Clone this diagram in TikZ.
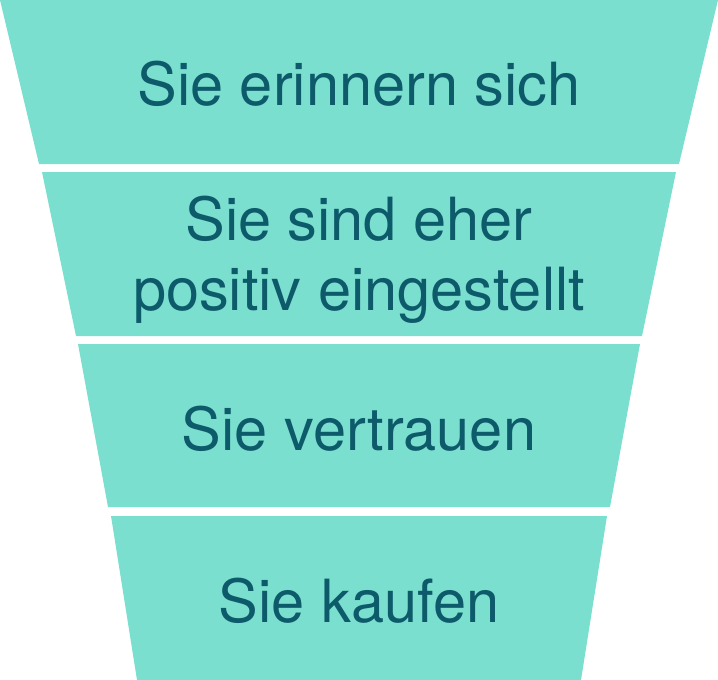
\documentclass[tikz,border=0pt]{standalone}
\usepackage{fontspec}
\setmainfont{TeX Gyre Heros}
\definecolor{funnelfill}{HTML}{7ADFCF}
\definecolor{funneltext}{HTML}{0D5A6A}
\begin{document}
\begin{tikzpicture}[x=1pt,y=-1pt,
  seg/.style={fill=funnelfill},
  lbl/.style={text=funneltext,font=\fontsize{59.5}{70}\selectfont,anchor=base,align=center,inner sep=0pt}]
\useasboundingbox (0,0) rectangle (718,680);
\def\cx{359}
% trapezoids
\fill[seg] (\cx-359,0) -- (\cx+359,0) -- (\cx+320,164) -- (\cx-320,164) -- cycle;
\fill[seg] (\cx-317,172) -- (\cx+317,172) -- (\cx+283,336) -- (\cx-283,336) -- cycle;
\fill[seg] (\cx-281,344) -- (\cx+281,344) -- (\cx+251,507) -- (\cx-251,507) -- cycle;
\fill[seg] (\cx-248,516) -- (\cx+248,516) -- (\cx+222,680) -- (\cx-222,680) -- cycle;
% labels
\node[lbl] (l1) at (\cx,105) {Sie erinnern sich};
\node[lbl] (l2) at (\cx,310) {Sie sind eher\\positiv eingestellt};
\node[lbl] (l3) at (\cx,450) {Sie vertrauen};
\node[lbl] (l4) at (\cx,622) {Sie kaufen};
\end{tikzpicture}
\end{document}
